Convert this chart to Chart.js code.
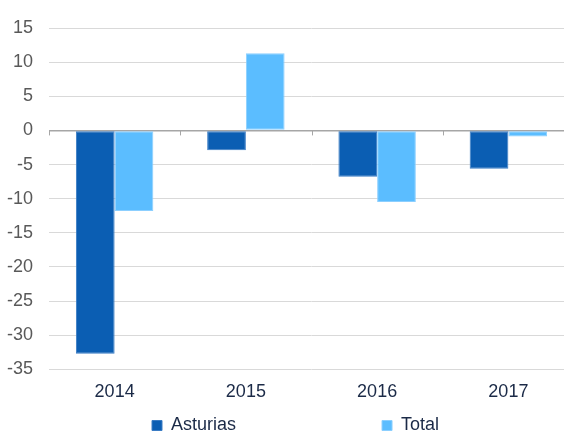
<!DOCTYPE html>
<html>
<head>
<meta charset="utf-8">
<script src="https://cdn.jsdelivr.net/npm/chart.js@4/dist/chart.umd.min.js"></script>
<style>
  html, body { margin: 0; padding: 0; background: #fff; overflow: hidden; }
  #wrap { width: 574px; height: 434px; }
</style>
</head>
<body>
<div id="wrap"><canvas id="myChart"></canvas></div>
<script>

// Data
var years = ['2014', '2015', '2016', '2017'];
var asturias = [-32.7, -2.9, -6.8, -5.6];
var total = [-11.8, 11.3, -10.5, -0.9];
var yTicks = [15, 10, 5, 0, -5, -10, -15, -20, -25, -30, -35];

var legendGap = 146;
var font = { family: 'Liberation Sans, Arial, sans-serif', size: 18 };

// small tick marks on the zero line, between the categories
var zeroTicks = {
    id: 'zeroTicks',
    afterDatasetsDraw: function (chart) {
        var x = chart.scales.x;
        var y0 = chart.scales.y.getPixelForValue(0);
        var ctx = chart.ctx;
        ctx.save();
        ctx.strokeStyle = '#a6a6a6';
        ctx.lineWidth = 1;
        for (var i = 0; i <= years.length; i++) {
            var px = Math.round(x.getPixelForValue(i - 0.5)) + 0.5;
            ctx.beginPath();
            ctx.moveTo(px, y0);
            ctx.lineTo(px, y0 + 5);
            ctx.stroke();
        }
        ctx.restore();
    }
};

// wide legend spacing: keep both items on one row and pull them back into view
var legendShift = {
    id: 'legendShift',
    beforeLayout: function (chart) {
        var lg = chart.legend;
        if (lg._patched) return;
        var fit = lg.fit;
        lg.fit = function () {
            var mw = this.maxWidth;
            this.maxWidth = 10000;
            fit.call(this);
            this.maxWidth = mw;
            this.width = Math.min(this.width, mw);
        };
        lg._patched = true;
    },
    afterLayout: function (chart) {
        var lg = chart.legend;
        lg.top = chart.height - 17.5 - legendGap;
        lg.left += 6;
        lg.right += legendGap;
    }
};

function renderChart() {
    var ctx = document.getElementById('myChart').getContext('2d');
    var myChart = new Chart(ctx, {
        type: 'bar',
        data: {
            labels: years,
            datasets: [
                {
                    label: 'Asturias',
                    data: asturias,
                    backgroundColor: '#0b5eb3',
                    borderColor: '#3a7cc4',
                    borderWidth: 1,
                    borderSkipped: false
                },
                {
                    label: 'Total',
                    data: total,
                    backgroundColor: '#5bbdff',
                    borderColor: '#8ccfff',
                    borderWidth: 1,
                    borderSkipped: false
                }
            ]
        },
        options: {
            responsive: true,
            maintainAspectRatio: false,
            animation: false,
            datasets: {
                bar: { categoryPercentage: 0.59, barPercentage: 1.0 }
            },
            layout: { padding: { top: 28, right: 0, bottom: 0, left: 0 } },
            plugins: {
                tooltip: { enabled: false },
                legend: {
                    position: 'bottom',
                    align: 'start',
                    maxHeight: 19,
                    labels: {
                        boxWidth: 10,
                        boxHeight: 10,
                        padding: legendGap,
                        color: '#1b2a47',
                        font: font
                    }
                }
            },
            scales: {
                x: {
                    grid: { display: false, drawTicks: false },
                    border: { display: false },
                    ticks: {
                        autoSkip: false,
                        maxRotation: 0,
                        color: '#1b2a47',
                        padding: 12,
                        font: font
                    }
                },
                y: {
                    min: -35,
                    max: 15,
                    afterFit: function (scale) { scale.width = 49; },
                    afterBuildTicks: function (scale) {
                        scale.ticks = yTicks.map(function (v) { return { value: v }; });
                    },
                    border: { display: false },
                    grid: {
                        drawTicks: false,
                        lineWidth: function (c) { return c.tick && c.tick.value === 0 ? 1.5 : 1; },
                        color: function (c) { return c.tick && c.tick.value === 0 ? '#a6a6a6' : '#d9d9d9'; }
                    },
                    ticks: {
                        autoSkip: false,
                        color: '#595959',
                        padding: 16,
                        font: font
                    }
                }
            }
        },
        plugins: [zeroTicks, legendShift]
    });
}

renderChart();
</script>
</body>
</html>
